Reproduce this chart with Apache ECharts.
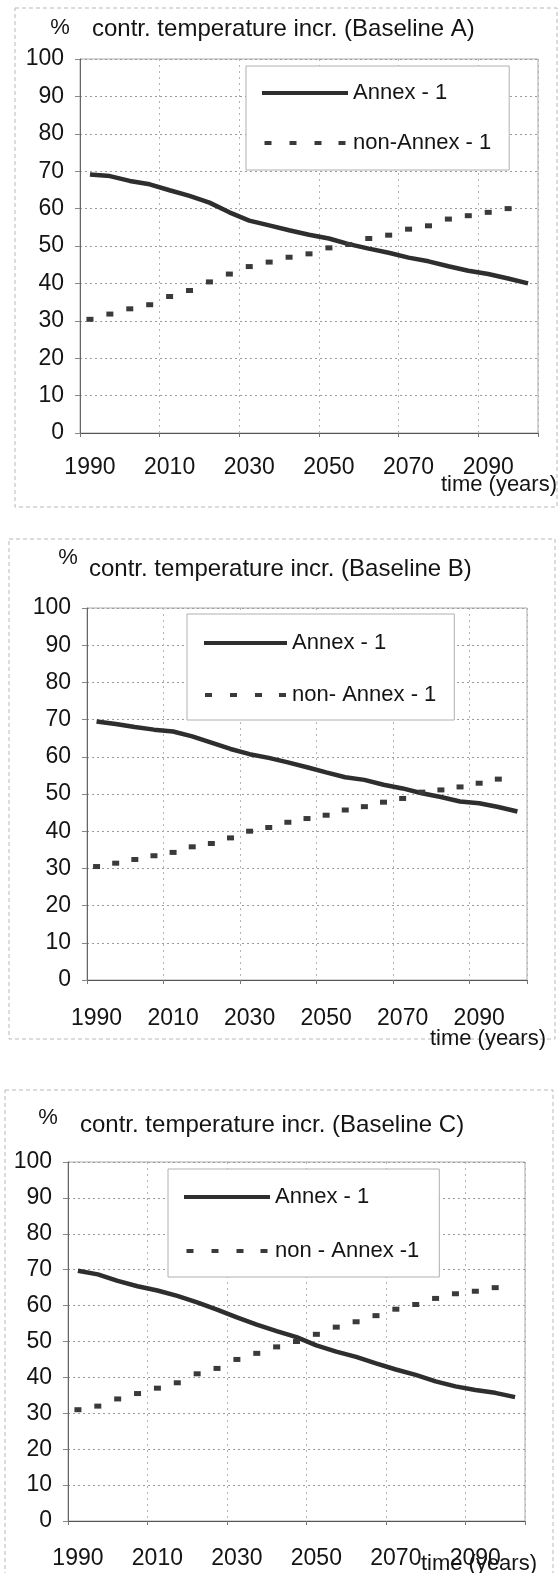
<!DOCTYPE html>
<html>
<head>
<meta charset="utf-8">
<title>contr. temperature incr.</title>
<script src="https://cdn.jsdelivr.net/npm/echarts@6/dist/echarts.min.js"></script>
<style>
  html, body { margin: 0; padding: 0; background: #fff; }
  #chart { width: 560px; height: 1573px; }
</style>
</head>
<body>
<div id="chart"></div>
<script>
// categories: 5-year steps, a label every 20 years
var years = ['1990', '1995', '2000', '2005', '2010', '2015', '2020', '2025', '2030', '2035', '2040', '2045',
  '2050', '2055', '2060', '2065', '2070', '2075', '2080', '2085', '2090', '2095', '2100'];
var yMin = 0, yMax = 100, yStep = 10;

// Baseline A
var annexA = [69.1, 68.7, 67.4, 66.5, 64.9, 63.4, 61.6, 59.0, 56.8, 55.5, 54.2, 53.0,
  52.0, 50.5, 49.3, 48.2, 46.9, 45.9, 44.6, 43.4, 42.5, 41.3, 40.0];
var nonAnnexA = [30.4, 31.8, 33.2, 34.3, 36.5, 38.1, 40.4, 42.5, 44.5, 45.7, 47.0, 47.9,
  49.5, 50.4, 52.0, 52.9, 54.5, 55.4, 57.2, 58.1, 59.0, 60.0, null];

// Baseline B
var annexB = [69.5, 68.8, 68.0, 67.3, 66.8, 65.5, 63.8, 62.1, 60.7, 59.7, 58.5, 57.2,
  55.8, 54.5, 53.8, 52.5, 51.5, 50.2, 49.2, 48.0, 47.5, 46.5, 45.3];
var nonAnnexB = [30.5, 31.4, 32.4, 33.4, 34.3, 35.8, 36.7, 38.2, 40.0, 41.0, 42.4, 43.4,
  44.3, 45.7, 46.6, 47.8, 48.8, 50.5, 51.1, 51.9, 52.9, 54.0, null];

// Baseline C
var annexC = [69.7, 68.7, 66.9, 65.4, 64.2, 62.7, 60.9, 58.9, 56.7, 54.7, 52.9, 51.2,
  48.9, 47.2, 45.7, 43.9, 42.2, 40.7, 38.9, 37.5, 36.5, 35.7, 34.5];
var nonAnnexC = [31.0, 32.0, 34.0, 35.5, 37.0, 38.5, 41.0, 42.5, 45.0, 46.7, 48.5, 50.0,
  52.0, 54.0, 55.5, 57.2, 59.0, 60.3, 62.0, 63.3, 64.0, 65.0, null];

var titles = ['contr. temperature incr. (Baseline A)', 'contr. temperature incr. (Baseline B)', 'contr. temperature incr. (Baseline C)'];
var annexNames = ['Annex - 1', 'Annex - 1 ', 'Annex - 1  '];
var nonAnnexNames = ['non-Annex - 1', 'non- Annex - 1', 'non - Annex -1'];

var FONT = '"Liberation Sans", Arial, sans-serif';
var INK = '#141414';
var LINE = '#2e2e2e';
// four short dashes, used as the legend icon of the dotted series
var dashIcon = 'path://M2,0h7v4h-7z M27,0h7v4h-7z M52,0h7v4h-7z M76,0h7v4h-7z';

var chart = echarts.init(document.getElementById('chart'), null, { renderer: 'canvas' });

function xAxisFor(i, labelMargin) {
  return {
    type: 'category', gridIndex: i, data: years, boundaryGap: true,
    axisLine: { lineStyle: { color: '#555', width: 1 } },
    axisTick: { show: true, interval: 3, length: 4, lineStyle: { color: '#777' } },
    axisLabel: { interval: 3, margin: labelMargin, color: INK, fontSize: 23, fontFamily: FONT },
    splitLine: { show: true, interval: 3, lineStyle: { color: '#b4b4b4', type: [2, 4] } }
  };
}

function yAxisFor(i) {
  return {
    type: 'value', gridIndex: i, min: yMin, max: yMax, interval: yStep,
    axisLine: { show: true, lineStyle: { color: '#666', width: 1 } },
    axisTick: { show: true, length: 5, lineStyle: { color: '#888' } },
    axisLabel: { margin: 16, color: INK, fontSize: 23, fontFamily: FONT },
    splitLine: { lineStyle: { color: '#9a9a9a', type: [2, 3] } }
  };
}

function annexSeries(i, values) {
  return {
    name: annexNames[i], type: 'line', xAxisIndex: i, yAxisIndex: i, data: values,
    symbol: 'none', color: LINE, z: 3,
    lineStyle: { color: LINE, width: 4.5 }
  };
}

function nonAnnexSeries(i, values) {
  return {
    name: nonAnnexNames[i], type: 'line', xAxisIndex: i, yAxisIndex: i, data: values,
    symbol: 'rect', symbolSize: [7, 5], showSymbol: true, showAllSymbol: true,
    color: '#3a3a3a', z: 4,
    itemStyle: { color: '#3a3a3a' },
    lineStyle: { width: 0, opacity: 0 }
  };
}

function legendFor(i, left, top, padding, gap, iconWidth) {
  return {
    orient: 'vertical', left: left, top: top, padding: padding, itemGap: gap,
    itemWidth: iconWidth, itemHeight: 4,
    backgroundColor: '#fff', borderColor: '#b0b0b0', borderWidth: 1, borderRadius: 0,
    textStyle: { color: INK, fontSize: 22, fontFamily: FONT },
    data: [
      { name: annexNames[i], icon: 'rect' },
      { name: nonAnnexNames[i], icon: dashIcon }
    ],
    selectedMode: false
  };
}

function text(str, x, y, align, size) {
  return {
    type: 'text', x: x, y: y, z: 10,
    style: { text: str, fill: INK, font: size + 'px ' + FONT, textAlign: align, textVerticalAlign: 'middle' }
  };
}

function frame(x, y, w, h) {
  return {
    type: 'rect', z: 0, shape: { x: x, y: y, width: w, height: h },
    style: { fill: null, stroke: '#b8b8b8', lineWidth: 1, lineDash: [4, 3] }
  };
}

var option = {
  backgroundColor: '#fff',
  animation: false,
  grid: [
    { left: 80, top: 59, width: 458, height: 374, show: true, borderColor: '#aaa', borderWidth: 1 },
    { left: 87, top: 608, width: 440, height: 372, show: true, borderColor: '#aaa', borderWidth: 1 },
    { left: 68, top: 1162, width: 457, height: 359, show: true, borderColor: '#aaa', borderWidth: 1 }
  ],
  xAxis: [xAxisFor(0, 23), xAxisFor(1, 27), xAxisFor(2, 26)],
  yAxis: [yAxisFor(0), yAxisFor(1), yAxisFor(2)],
  legend: [
    legendFor(0, 246, 66, [16, 18, 16, 16], 28, 86),
    legendFor(1, 187, 614, [18, 18, 14, 17], 30, 83),
    legendFor(2, 168, 1169, [17, 20, 15, 16], 32, 86)
  ],
  graphic: [
    frame(15, 8, 542, 499),
    frame(9, 539, 546, 500),
    frame(5, 1090, 548, 500),
    text('%', 60, 28, 'center', 22),
    text(titles[0], 92, 29, 'left', 24),
    text('time (years)', 557, 485, 'right', 22),
    text('%', 68, 558, 'center', 22),
    text(titles[1], 89, 569, 'left', 24),
    text('time (years)', 546, 1039, 'right', 22),
    text('%', 48, 1118, 'center', 22),
    text(titles[2], 80, 1125, 'left', 24),
    text('time (years)', 537, 1564, 'right', 22)
  ],
  series: [
    annexSeries(0, annexA), nonAnnexSeries(0, nonAnnexA),
    annexSeries(1, annexB), nonAnnexSeries(1, nonAnnexB),
    annexSeries(2, annexC), nonAnnexSeries(2, nonAnnexC)
  ]
};

chart.setOption(option);
</script>
</body>
</html>
